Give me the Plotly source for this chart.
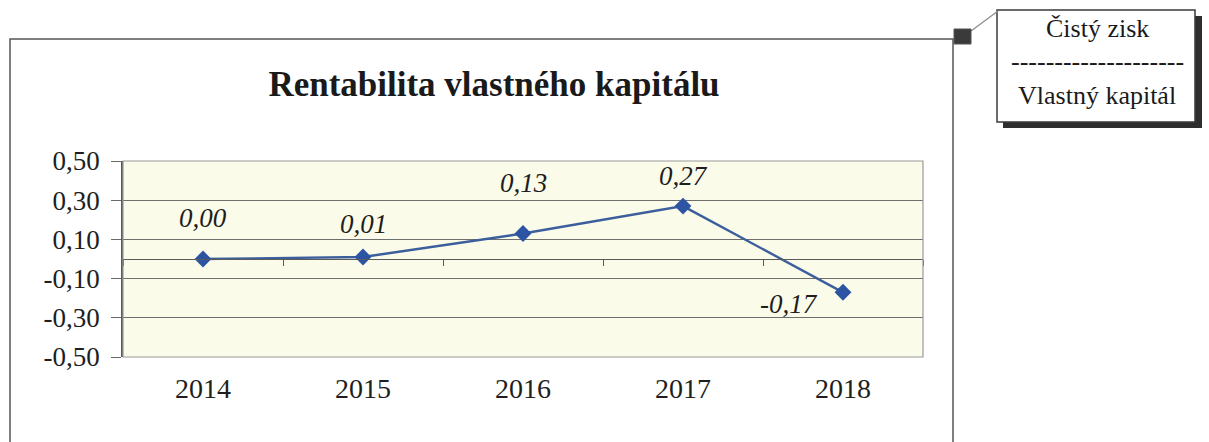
import plotly.graph_objects as go

# ---- data ----
years = ["2014", "2015", "2016", "2017", "2018"]
roe = [0.00, 0.01, 0.13, 0.27, -0.17]
roe_labels = ["0,00", "0,01", "0,13", "0,27", "-0,17"]
y_tickvals = [-0.5, -0.3, -0.1, 0.1, 0.3, 0.5]
y_ticktext = ["-0,50", "-0,30", "-0,10", "0,10", "0,30", "0,50"]
title_text = "Rentabilita vlastného kapitálu"
box_top = "Čistý zisk"
box_mid = "--------------------"
box_bottom = "Vlastný kapitál"

# ---- layout geometry (pixels) ----
W, H = 1209, 442
L, R, T, B = 123, 923, 161, 357  # plot area


def px(x):
    return (x - L) / (R - L)


def py(y):
    return (B - y) / (B - T)


SERIF = "Liberation Serif, Times New Roman, serif"
LINE_COL = "#3b5e9c"
MARK_COL = "#2c54a2"

fig = go.Figure()
fig.add_trace(go.Scatter(
    x=years, y=roe, mode="lines+markers",
    line=dict(color=LINE_COL, width=2.4),
    marker=dict(symbol="diamond", size=13, color=MARK_COL),
    hoverinfo="skip", showlegend=False,
))
# dummy trace so the zero-crossing category axis is drawn
fig.add_trace(go.Scatter(
    x=years, y=roe, xaxis="x2", mode="lines", opacity=0,
    hoverinfo="skip", showlegend=False,
))

# data labels (offsets in pixels relative to each point)
offsets = [(0, 41), (0, 33), (0, 51), (0, 30), (-54, -12)]
for i, (v, t, (dx, dy)) in enumerate(zip(roe, roe_labels, offsets)):
    fig.add_annotation(
        x=i, y=v, xref="x", yref="y", text="<i>" + t + "</i>", showarrow=False,
        xshift=dx, yshift=dy,
        font=dict(family=SERIF, size=27, color="#1e1e1e"),
    )

# callout box texts
for txt, yy in [(box_top, 29), (box_mid, 61), (box_bottom, 96)]:
    fig.add_annotation(
        x=px(1097), y=py(yy), xref="paper", yref="paper", text=txt,
        showarrow=False, xanchor="center", yanchor="middle",
        font=dict(family=SERIF, size=26, color="#1a1a1a"),
    )

shapes = [
    # outer chart frame
    dict(type="rect", xref="paper", yref="paper",
         x0=px(10), x1=px(953), y0=py(460), y1=py(39),
         line=dict(color="#555555", width=1.5), layer="below"),
    # plot area border
    dict(type="rect", xref="paper", yref="paper",
         x0=0, x1=1, y0=0, y1=1,
         line=dict(color="#9a9a9a", width=1.2)),
    # callout shadow
    dict(type="rect", xref="paper", yref="paper",
         x0=px(1003), x1=px(1202), y0=py(128), y1=py(16),
         line=dict(width=0), fillcolor="#2e2e2e"),
    # callout box
    dict(type="rect", xref="paper", yref="paper",
         x0=px(997), x1=px(1195), y0=py(122), y1=py(10),
         line=dict(color="#3a3a3a", width=1.5), fillcolor="white"),
    # connector line
    dict(type="line", xref="paper", yref="paper",
         x0=px(971), y0=py(31), x1=px(998), y1=py(11),
         line=dict(color="#8a8a8a", width=1.2)),
    # small handle square
    dict(type="rect", xref="paper", yref="paper",
         x0=px(954), x1=px(971), y0=py(44), y1=py(29),
         line=dict(color="#555555", width=1), fillcolor="#3a3a3a"),
]

fig.update_layout(
    width=W, height=H,
    margin=dict(l=L, r=W - R, t=T, b=H - B),
    paper_bgcolor="white",
    plot_bgcolor="#fbfbe9",
    separators=", ",
    title=dict(
        text="<b>" + title_text + "</b>",
        xref="container", yref="container",
        x=494 / W, y=1 - 84 / H, xanchor="center", yanchor="middle",
        font=dict(family=SERIF, size=35, color="#1a1a1a"),
    ),
    xaxis=dict(
        type="category", range=[-0.5, 4.5],
        showgrid=False, zeroline=False, showline=False,
        ticks="", ticklabelstandoff=12,
        tickfont=dict(family=SERIF, size=28, color="#1e1e1e"),
    ),
    xaxis2=dict(
        type="category", overlaying="x", anchor="free", position=0.5,
        side="bottom", range=[-0.5, 4.5],
        showgrid=False, zeroline=False, showline=True,
        linecolor="#5a5a5a", linewidth=1.2,
        ticks="outside", tickson="boundaries", ticklen=6,
        tickcolor="#5a5a5a", showticklabels=False,
    ),
    yaxis=dict(
        range=[-0.5, 0.5], tickvals=y_tickvals, ticktext=y_ticktext,
        showgrid=True, gridcolor="#6e6e6e", gridwidth=1,
        zeroline=False, showline=True, linecolor="#5a5a5a", linewidth=1.5,
        ticks="outside", ticklen=10, tickcolor="#6a6a6a",
        ticklabelstandoff=6,
        tickfont=dict(family=SERIF, size=27, color="#1e1e1e"),
    ),
    shapes=shapes,
)

fig.write_html(
    "out.html",
    config={"displayModeBar": False},
    post_script="document.body.style.margin='0';document.body.style.overflow='hidden';",
)
